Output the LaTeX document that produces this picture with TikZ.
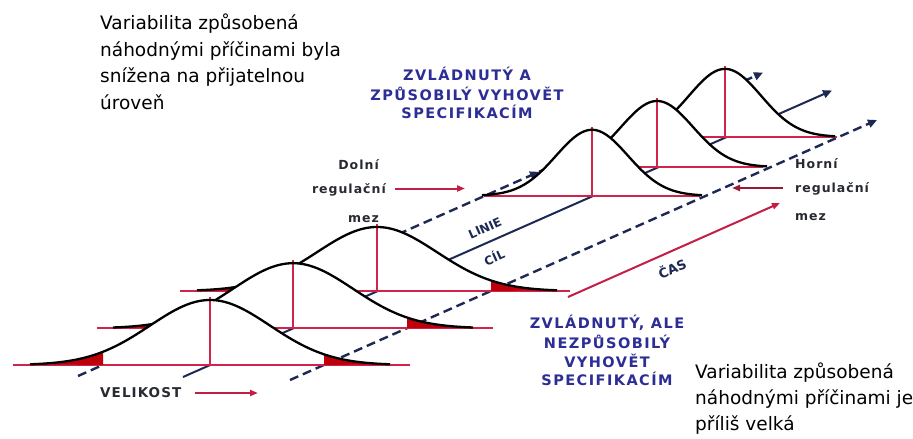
\documentclass[tikz,border=0pt]{standalone}
\usepackage{fontspec}
\setmainfont{DejaVu Sans}
\newfontfamily\plainf{DejaVu Sans}
\newfontfamily\lblf{DejaVu Sans}[LetterSpace=8]
\newfontfamily\headf{DejaVu Sans}[LetterSpace=10]
\usetikzlibrary{arrows.meta}
\definecolor{navyd}{RGB}{30,40,85}
\definecolor{redl}{RGB}{210,35,75}
\definecolor{redf}{RGB}{190,0,10}
\definecolor{headblue}{RGB}{45,45,150}
\definecolor{lblgray}{RGB}{40,42,50}
\definecolor{arrred}{RGB}{195,30,70}
\tikzset{
  curveline/.style={black,line width=2.3pt,line join=round},
  redline/.style={redl,line width=2pt},
  speclimit/.style={navyd,line width=2.4pt,dash pattern=on 9pt off 5pt,-{Triangle[length=9pt,width=8pt]}},
  targetline/.style={navyd,line width=2pt,-{Triangle[length=9pt,width=8pt]}},
  redarrow/.style={arrred,line width=2pt,-{Triangle[length=8pt,width=6pt]}},
  plaintext/.style={font=\plainf\fontsize{18.5}{24}\selectfont,inner sep=0pt},
  smalllbl/.style={font=\lblf\bfseries\fontsize{12.5}{14}\selectfont,text=lblgray,inner sep=0pt},
  headtext/.style={font=\headf\bfseries\fontsize{14.5}{16}\selectfont,text=headblue,inner sep=0pt},
  floorlbl/.style={font=\plainf\bfseries\fontsize{12}{13}\selectfont,text=navyd,inner sep=0pt,rotate=24}
}
% cx, baseline y, height, sigma, half domain, baseline left, baseline right, tail fills (1/0)
\newcommand\mybell[8]{%
  \fill[white] plot[domain=-#5:#5,samples=120] ({#1+\x},{#2-#3*exp(-0.5*(\x/#4)^2)}) -- cycle;
  \draw[redline] ({#1-#6},#2) -- ({#1+#7},#2);
  \ifnum#8=1
    \fill[redf] plot[domain=-#5:-107,samples=40] ({#1+\x},{#2-#3*exp(-0.5*(\x/#4)^2)}) -- ({#1-107},#2) -- cycle;
    \fill[redf] ({#1+114},#2) -- plot[domain=114:#5,samples=40] ({#1+\x},{#2-#3*exp(-0.5*(\x/#4)^2)}) -- cycle;
  \fi
  \draw[redline] (#1,#2) -- (#1,{#2-#3-3});
  \draw[curveline] plot[domain=-#5:#5,samples=120] ({#1+\x},{#2-#3*exp(-0.5*(\x/#4)^2)});
}
\begin{document}
\begin{tikzpicture}[x=1pt,y=-1pt]
\fill[white] (0,0) rectangle (913,439);
\useasboundingbox (0,0) rectangle (913,439);

% floor lines
\coordinate (tgtS) at (183,377);
\coordinate (tgtE) at (832,90.5);
\coordinate (loS) at (78,376);
\coordinate (loM) at (539,171.8);
\coordinate (loE) at (763,72.6);
\coordinate (upS) at (290,380);
\coordinate (upE) at (877,120);
\draw[targetline] (tgtS) -- (tgtE);
\draw[speclimit] (loS) -- (loM);
\draw[speclimit] (loM) -- (loE);
\draw[speclimit] (upS) -- (upE);

% curves, back to front
\mybell{725}{136.9}{68}{36}{110}{108}{112}{0}
\mybell{657}{167}{66}{36}{110}{108}{106}{0}
\mybell{592}{195.8}{66}{36}{110}{108}{108}{0}
\mybell{377}{291}{64}{60}{180}{197}{193}{1}
\mybell{293}{328.2}{65}{60}{180}{196}{200}{1}
\mybell{210}{365}{65}{60}{180}{197}{200}{1}

% time arrow
\coordinate (casS) at (568,297);
\coordinate (casE) at (780,203);
\draw[redarrow] (casS) -- (casE);
\node[floorlbl,font=\plainf\bfseries\fontsize{13}{14}\selectfont] (cas) at (672,268) {ČAS};
\node[floorlbl] (linie) at (485,228) {LINIE};
\node[floorlbl] (cil) at (494,257) {CÍL};

% lower control limit label
\node[smalllbl,anchor=base east] (dol1) at (379,169) {Dolní};
\node[smalllbl,anchor=base east] (dol2) at (386,193) {regulační};
\node[smalllbl,anchor=base east] (dol3) at (379,222) {mez};
\coordinate (dolA) at (395,188.5);
\coordinate (dolB) at (465,188.5);
\draw[redarrow] (dolA) -- (dolB);

% upper control limit label
\node[smalllbl,anchor=base west] (hor1) at (795,168) {Horní};
\node[smalllbl,anchor=base west] (hor2) at (795,192) {regulační};
\node[smalllbl,anchor=base west] (hor3) at (795,220) {mez};
\coordinate (horA) at (783,188);
\coordinate (horB) at (732,188);
\draw[redarrow,arrred!80!black] (horA) -- (horB);

% size label
\node[smalllbl,font=\lblf\bfseries\fontsize{13.5}{15}\selectfont,anchor=base west] (vel) at (100,397) {VELIKOST};
\coordinate (velA) at (195,393);
\coordinate (velB) at (258,393);
\draw[redarrow] (velA) -- (velB);

% blue headings
\node[headtext,anchor=base] (h1a) at (467,80) {ZVLÁDNUTÝ A};
\node[headtext,anchor=base] (h1b) at (467,100) {ZPŮSOBILÝ VYHOVĚT};
\node[headtext,anchor=base] (h1c) at (467,118.5) {SPECIFIKACÍM};
\node[headtext,anchor=base] (h2a) at (607,328) {ZVLÁDNUTÝ, ALE};
\node[headtext,anchor=base] (h2b) at (607,348) {NEZPŮSOBILÝ};
\node[headtext,anchor=base] (h2c) at (607,367) {VYHOVĚT};
\node[headtext,anchor=base] (h2d) at (607,385.5) {SPECIFIKACÍM};

% plain texts
\node[plaintext,anchor=base west] (tl1) at (100,29) {Variabilita způsobená};
\node[plaintext,anchor=base west] (tl2) at (100,56) {náhodnými příčinami byla};
\node[plaintext,anchor=base west] (tl3) at (100,82.5) {snížena na přijatelnou};
\node[plaintext,anchor=base west] (tl4) at (100,109) {úroveň};
\node[plaintext,anchor=base west] (br1) at (695,378) {Variabilita způsobená};
\node[plaintext,anchor=base west] (br2) at (695,404.5) {náhodnými příčinami je};
\node[plaintext,anchor=base west] (br3) at (695,430.5) {příliš velká};
\end{tikzpicture}
\end{document}
